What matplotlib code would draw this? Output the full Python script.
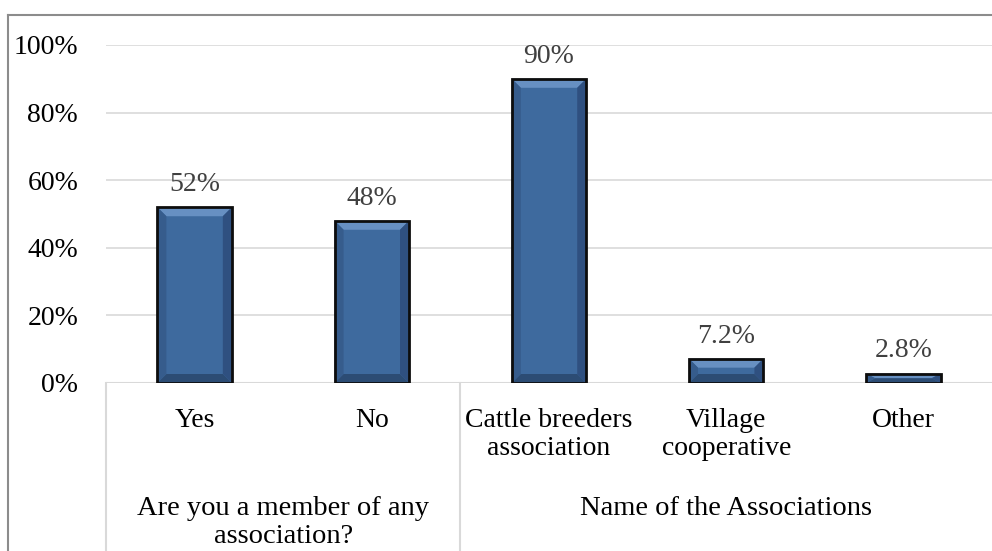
import matplotlib.pyplot as plt
import numpy as np
from matplotlib.patches import Polygon, Rectangle
from matplotlib.lines import Line2D

plt.rcParams['font.family'] = ['Liberation Serif', 'DejaVu Serif']

categories = ['Yes', 'No', 'Cattle breeders\nassociation', 'Village\ncooperative', 'Other']
values = [52, 48, 90, 7.2, 2.8]
value_labels = ['52%', '48%', '90%', '7.2%', '2.8%']
groups = ['Are you a member of any\nassociation?', 'Name of the Associations']
group_spans = [(0, 1), (2, 4)]
yticks = [0, 20, 40, 60, 80, 100]

W, H = 992, 551
fig = plt.figure(figsize=(W / 100, H / 100), dpi=100)
ax = fig.add_axes([106 / W, 1 - 383 / H, 886 / W, 338 / H])

n = len(categories)
x = np.arange(n)
width = 0.42
ax.set_xlim(-0.5, n - 0.5)
ax.set_ylim(0, 100)

# pixel -> data scale for the bevel
px_x = n / 886.0
px_y = 100 / 338.0
bx = 9 * px_x
by = 9 * px_y

face = '#3E6A9E'
for xi, v in zip(x, values):
    x0, x1 = xi - width / 2, xi + width / 2
    b = min(by, v / 2)
    bxx = min(bx, width / 2)
    ax.add_patch(Rectangle((x0, 0), width, v, facecolor=face, edgecolor='none', zorder=3))
    # top (light), bottom (dark), sides
    ax.add_patch(Polygon([(x0, v), (x1, v), (x1 - bxx, v - b), (x0 + bxx, v - b)],
                         facecolor='#6790C2', edgecolor='none', zorder=3))
    ax.add_patch(Polygon([(x0, 0), (x1, 0), (x1 - bxx, b), (x0 + bxx, b)],
                         facecolor='#2C4C74', edgecolor='none', zorder=3))
    ax.add_patch(Polygon([(x0, 0), (x0, v), (x0 + bxx, v - b), (x0 + bxx, b)],
                         facecolor='#365C8C', edgecolor='none', zorder=3))
    ax.add_patch(Polygon([(x1, 0), (x1, v), (x1 - bxx, v - b), (x1 - bxx, b)],
                         facecolor='#2F5080', edgecolor='none', zorder=3))
    ax.add_patch(Rectangle((x0, 0), width, v, facecolor='none', edgecolor='#0D0D0D',
                           linewidth=2, zorder=4))

for xi, v, lab in zip(x, values, value_labels):
    ax.text(xi, v + 3, lab, ha='center', va='bottom', fontsize=20, color='#404040')

ax.set_yticks(yticks)
ax.set_yticklabels([f'{t}%' for t in yticks], fontsize=20)
ax.tick_params(axis='y', length=0, pad=20)
ax.set_xticks([])
ax.yaxis.grid(True, color='#D9D9D9', linewidth=1.2)
ax.set_axisbelow(True)
for s in ax.spines.values():
    s.set_visible(False)
ax.axhline(0, color='#D9D9D9', linewidth=1.5, zorder=2)

# category labels and group labels under the axis
for xi, lab in zip(x, categories):
    ax.text(xi, -7.3, lab, ha='center', va='top', fontsize=20, linespacing=1.17,
            clip_on=False)
for (a, b2), g in zip(group_spans, groups):
    ax.text((a + b2) / 2, -33.3, g, ha='center', va='top', fontsize=20.5, linespacing=1.17,
            clip_on=False)

for xs in [-0.5, 1.5]:
    ax.plot([xs, xs], [0, -60], color='#D9D9D9', linewidth=1.5, clip_on=False)

# chart border
fig.add_artist(Line2D([8 / W, 8 / W], [0, 1 - 15 / H], color='#8C8C8C', linewidth=1.5))
fig.add_artist(Line2D([8 / W, 1], [1 - 15 / H, 1 - 15 / H], color='#8C8C8C', linewidth=1.5))

fig.savefig('out.png', dpi=100)
